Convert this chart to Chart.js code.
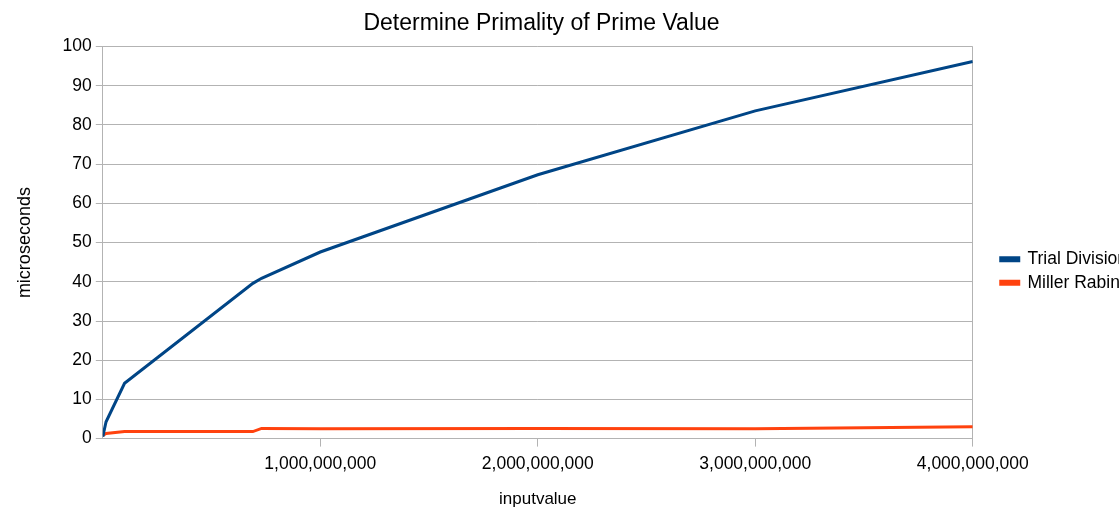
<!DOCTYPE html>
<html lang="en">
<head>
    <meta charset="UTF-8">
    <script src="https://cdn.jsdelivr.net/npm/chart.js"></script>
    <title>Determine Primality of Prime Value</title>
    <style>
        html, body { margin: 0; padding: 0; background: #fff; overflow: hidden; }
        #wrap { width: 1119px; height: 511px; }
    </style>
</head>
<body>
    <div id="wrap"><canvas id="primeChart"></canvas></div>
    <script>
        // input values (x) and timings in microseconds
        const inputValues = [1, 15000000, 100000000, 690000000, 730000000, 1000000000, 2000000000, 3000000000, 4000000000];
        const trialDivision = [0.5, 4.3, 14.1, 39.6, 40.9, 47.6, 67.3, 83.6, 96.2];
        const millerRabin = [0.8, 1.3, 1.8, 1.8, 2.6, 2.5, 2.6, 2.5, 3.0];
        const yTicks = [0, 10, 20, 30, 40, 50, 60, 70, 80, 90, 100];
        const xMax = 4000000000;

        const toPoints = vals => inputValues.map((x, i) => ({ x: x, y: vals[i] }));

        const font = 'Liberation Sans, Arial, sans-serif';
        const gridGray = '#b3b3b3';

        // shift title / legend a little after layout, like the original office chart
        const nudge = {
            id: 'nudge',
            afterLayout(chart) {
                chart.titleBlock.left -= 23;
                chart.titleBlock.right -= 23;
                chart.legend.left += 22;
                chart.legend.right += 22;
                chart.legend.top += 14;
                chart.legend.bottom += 14;
            }
        };

        new Chart(document.getElementById('primeChart'), {
            type: 'line',
            data: {
                datasets: [{
                    label: 'Trial Division',
                    data: toPoints(trialDivision),
                    borderColor: '#004586',
                    backgroundColor: '#004586',
                    borderWidth: 3,
                    pointRadius: 0,
                    tension: 0
                }, {
                    label: 'Miller Rabin',
                    data: toPoints(millerRabin),
                    borderColor: '#ff420e',
                    backgroundColor: '#ff420e',
                    borderWidth: 3,
                    pointRadius: 0,
                    tension: 0
                }]
            },
            plugins: [nudge],
            options: {
                responsive: true,
                maintainAspectRatio: false,
                animation: false,
                events: [],
                layout: { padding: { left: 14, right: 4, top: 4, bottom: 1 } },
                plugins: {
                    title: {
                        display: true,
                        text: 'Determine Primality of Prime Value',
                        color: '#000',
                        font: { family: font, size: 23, weight: 'normal' },
                        padding: { top: 6, bottom: 9 }
                    },
                    legend: {
                        position: 'right',
                        labels: {
                            color: '#000',
                            font: { family: font, size: 17.5 },
                            boxWidth: 18,
                            boxHeight: 3,
                            padding: 6
                        }
                    },
                    tooltip: { enabled: false }
                },
                scales: {
                    x: {
                        type: 'linear',
                        min: 0,
                        max: xMax,
                        grid: {
                            color: c => c.tick && c.tick.value === xMax ? gridGray : 'rgba(0,0,0,0)',
                            tickColor: gridGray,
                            tickLength: 8
                        },
                        border: { color: gridGray },
                        ticks: {
                            stepSize: 1000000000,
                            color: '#000',
                            font: { family: font, size: 17.5 },
                            maxRotation: 0,
                            padding: 7,
                            callback: v => v === 0 ? null : v.toLocaleString('en-US')
                        },
                        title: {
                            display: true,
                            text: 'inputvalue',
                            color: '#000',
                            font: { family: font, size: 17 },
                            padding: { top: 8, bottom: 0 }
                        }
                    },
                    y: {
                        min: 0,
                        max: 100,
                        afterBuildTicks: axis => { axis.ticks = yTicks.map(v => ({ value: v })); },
                        grid: { color: gridGray, tickLength: 7 },
                        border: { color: gridGray },
                        ticks: {
                            color: '#000',
                            font: { family: font, size: 17.5 },
                            padding: 4
                        },
                        title: {
                            display: true,
                            text: 'microseconds',
                            color: '#000',
                            font: { family: font, size: 18 },
                            padding: { top: 0, bottom: 23 }
                        }
                    }
                }
            }
        });
    </script>
</body>
</html>
